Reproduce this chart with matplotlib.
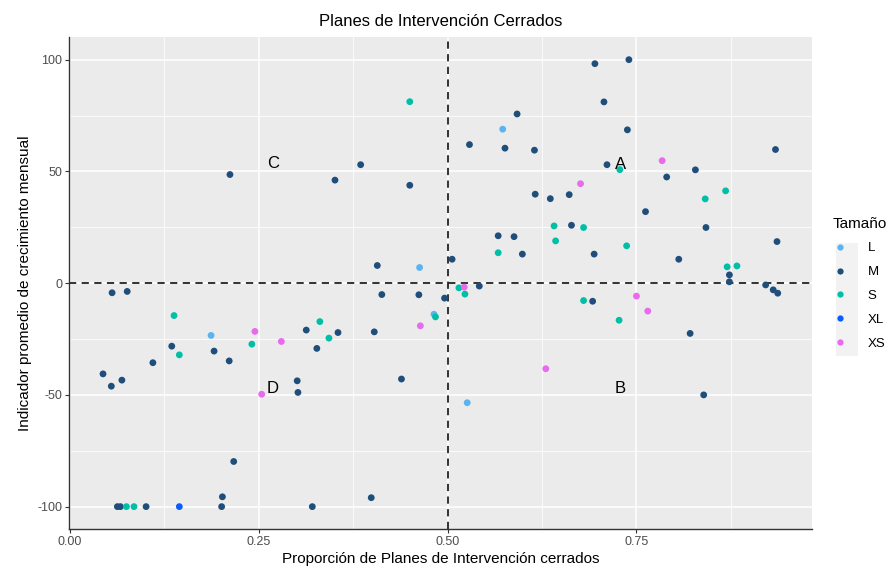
import matplotlib
matplotlib.use("Agg")
import matplotlib.pyplot as plt
from matplotlib.lines import Line2D
from matplotlib.patches import Rectangle

plt.rcParams['font.family'] = ['Liberation Sans', 'DejaVu Sans']
plt.rcParams['axes.unicode_minus'] = False

# Data: (proporción cerrados, indicador crecimiento) per size category
L_x = [0.463, 0.573, 0.187, 0.482, 0.526]
L_y = [7.0, 68.9, -23.4, -13.9, -53.5]

M_x = [0.212, 0.351, 0.385, 0.450, 0.407, 0.506, 0.056, 0.076, 0.413, 0.462, 0.496,
       0.695, 0.740, 0.707, 0.592, 0.738, 0.529, 0.576, 0.615, 0.934, 0.711, 0.790,
       0.828, 0.616, 0.636, 0.661, 0.762, 0.664, 0.842, 0.567, 0.588, 0.936, 0.599,
       0.694, 0.806, 0.873, 0.873, 0.921, 0.931, 0.937, 0.542, 0.692, 0.821, 0.839,
       0.313, 0.355, 0.403, 0.135, 0.191, 0.211, 0.327, 0.110, 0.044, 0.055, 0.069,
       0.301, 0.302, 0.439, 0.217, 0.202, 0.399, 0.063, 0.067, 0.101, 0.201, 0.321]
M_y = [48.6, 46.1, 53.0, 43.8, 7.9, 10.7, -4.3, -3.7, -5.1, -5.2, -6.7,
       98.2, 100.0, 81.1, 75.7, 68.6, 62.0, 60.4, 59.5, 59.8, 53.0, 47.5,
       50.7, 39.8, 37.8, 39.6, 32.0, 25.9, 24.9, 21.2, 20.8, 18.6, 13.0,
       13.0, 10.7, 3.7, 0.6, -0.8, -3.0, -4.5, -1.3, -8.1, -22.5, -50.0,
       -21.0, -22.1, -21.8, -28.2, -30.4, -34.8, -29.2, -35.6, -40.6, -46.1, -43.4,
       -43.7, -48.9, -42.9, -79.8, -95.6, -96.0, -100.0, -100.0, -100.0, -100.0, -100.0]

S_x = [0.450, 0.515, 0.728, 0.841, 0.868, 0.641, 0.680, 0.643, 0.737, 0.567, 0.870,
       0.883, 0.523, 0.680, 0.727, 0.138, 0.331, 0.484, 0.145, 0.241, 0.343, 0.075, 0.085]
S_y = [81.2, -2.1, 50.8, 37.7, 41.3, 25.6, 24.9, 18.9, 16.7, 13.6, 7.3,
       7.7, -4.9, -7.8, -16.6, -14.5, -17.2, -15.1, -32.1, -27.3, -24.6, -100.0, -100.0]

XL_x = [0.145]
XL_y = [-100.0]

XS_x = [0.784, 0.676, 0.522, 0.750, 0.765, 0.630, 0.245, 0.464, 0.280, 0.254]
XS_y = [54.8, 44.5, -1.8, -5.8, -12.5, -38.3, -21.6, -19.1, -26.1, -49.7]

categories = ['L', 'M', 'S', 'XL', 'XS']
series = {'L': (L_x, L_y), 'M': (M_x, M_y), 'S': (S_x, S_y),
          'XL': (XL_x, XL_y), 'XS': (XS_x, XS_y)}
colors = {'L': '#5AB4F2', 'M': '#1F4E7A', 'S': '#00BFA6', 'XL': '#0A5CFF', 'XS': '#E86BEE'}

quad_labels = ['A', 'B', 'C', 'D']
quad_x = [0.729, 0.729, 0.269, 0.268]
quad_y = [52.9, -47.2, 53.4, -47.2]

fig = plt.figure(figsize=(8.94, 5.68), dpi=100)
ax = fig.add_axes([0.0777, 0.0687, 0.8303, 0.8656])
ax.set_facecolor('#EBEBEB')

for c in categories:
    xs, ys = series[c]
    ax.scatter(xs, ys, s=24, color=colors[c], edgecolors='none', zorder=3)

ax.set_xlim(-0.0004, 0.982)
ax.set_ylim(-110, 110)
ax.set_xticks([0.0, 0.25, 0.5, 0.75])
ax.set_xticklabels(['0.00', '0.25', '0.50', '0.75'])
ax.set_yticks([-100, -50, 0, 50, 100])
ax.set_yticklabels(['-100', '-50', '0', '50', '100'])
ax.set_xticks([0.125, 0.375, 0.625, 0.875], minor=True)
ax.set_yticks([-75, -25, 25, 75], minor=True)
ax.grid(True, which='major', color='white', linewidth=1.1, zorder=0)
ax.grid(True, which='minor', color='white', linewidth=0.55, zorder=0)
ax.set_axisbelow(True)
ax.tick_params(which='minor', length=0)
ax.tick_params(which='major', length=3, width=0.8, color='#333333',
               labelcolor='#4D4D4D', labelsize=9, pad=2)

for s in ['top', 'right']:
    ax.spines[s].set_visible(False)
for s in ['left', 'bottom']:
    ax.spines[s].set_color('#333333')
    ax.spines[s].set_linewidth(1.0)

ax.axhline(0, color='#222222', linestyle=(0, (4, 3)), linewidth=1.3, zorder=2)
ax.axvline(0.5, color='#222222', linestyle=(0, (4, 3)), linewidth=1.3, zorder=2)

for lab, qx, qy in zip(quad_labels, quad_x, quad_y):
    ax.text(qx, qy, lab, fontsize=12, ha='center', va='center', color='black', zorder=4)

ax.set_title('Planes de Intervención Cerrados', fontsize=12, color='black', pad=8)
ax.set_xlabel('Proporción de Planes de Intervención cerrados', fontsize=11, labelpad=3)
ax.set_ylabel('Indicador promedio de crecimiento mensual', fontsize=11, labelpad=4)

# Legend
handles = [Line2D([0], [0], marker='o', linestyle='none', markersize=4.5,
                  markerfacecolor=colors[c], markeredgecolor='none') for c in categories]
leg = fig.legend(handles, categories, title='Tamaño', loc='upper left',
                 bbox_to_anchor=(0.925, 0.628), frameon=False, fontsize=9.5,
                 title_fontsize=11, handlelength=1.2, handletextpad=1.5,
                 labelspacing=0.88, borderaxespad=0, alignment='left')
fig.add_artist(Rectangle((836 / 894, 1 - 356 / 568), 22 / 894, 113 / 568,
                         transform=fig.transFigure, facecolor='#F2F2F2',
                         edgecolor='none', zorder=0))

fig.savefig('out.png', dpi=100)
